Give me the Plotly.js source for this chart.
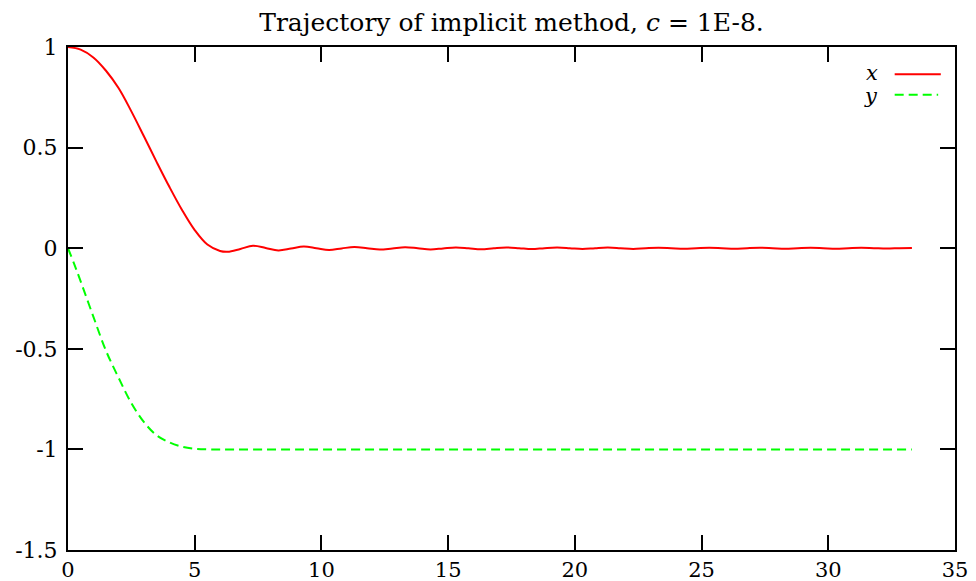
<!DOCTYPE html>
<html>
<head>
<meta charset="utf-8">
<script src="https://cdn.plot.ly/plotly-3.0.1.min.js"></script>
<style>html,body{margin:0;padding:0;background:#fff;}#chart{width:976px;height:581px;}</style>
</head>
<body>
<div id="chart"></div>
<script>
// Series x(t) (red, solid)
const tX = [0,0.5,1,1.5,2,2.5,3,3.5,4,4.5,5,5.5,6,6.3,6.8,7.3,7.8,8.3,8.8,9.3,9.8,10.3,10.8,11.3,11.8,12.3,12.8,13.3,13.8,14.3,14.8,15.3,15.8,16.3,16.8,17.3,17.8,18.3,18.8,19.3,19.8,20.3,20.8,21.3,21.8,22.3,22.8,23.3,23.8,24.3,24.8,25.3,25.8,26.3,26.8,27.3,27.8,28.3,28.8,29.3,29.8,30.3,30.8,31.3,31.8,32.3,32.8,33.3];
const xVals = [1.0,0.987,0.948,0.882,0.795,0.68,0.555,0.428,0.305,0.19,0.09,0.018,-0.014,-0.018,-0.004,0.012,0.001,-0.011,-0.002,0.008,0,-0.009,-0.001,0.006,0,-0.007,-0.001,0.005,0,-0.006,-0.001,0.004,0,-0.005,0,0.0035,0,-0.0045,0,0.003,0,-0.004,0,0.003,0,-0.0035,0,0.0025,0,-0.003,0,0.0025,0,-0.003,0,0.002,0,-0.0025,0,0.002,0,-0.0025,0,0.002,0,-0.002,0,0.0015];
// Series y(t) (green, dashed)
const tY = [0,0.25,0.5,1,1.5,2,2.5,3,3.5,4,4.5,5,5.5,6,33.3];
const yVals = [0,-0.08,-0.165,-0.34,-0.51,-0.645,-0.77,-0.865,-0.93,-0.965,-0.987,-0.997,-1,-1,-1];
// Ticks
const xTickVals = [0,5,10,15,20,25,30,35];
const xTickText = ["0","5","10","15","20","25","30","35"];
const yTickVals = [-1.5,-1,-0.5,0,0.5,1];
const yTickText = ["-1.5","-1","-0.5","0","0.5","1"];
const seriesNames = ["x","y"];

const FONT = "DejaVu Serif";
const traces = [
  {x: tX, y: xVals, type: 'scatter', mode: 'lines', name: seriesNames[0],
   line: {color: '#ff0000', width: 2, shape: 'spline', smoothing: 1}},
  {x: tY, y: yVals, type: 'scatter', mode: 'lines', name: seriesNames[1],
   line: {color: '#00ff00', width: 2, dash: '9px,5px', shape: 'spline', smoothing: 1}}
];
const axisCommon = {
  showgrid: false, zeroline: false, showline: true, linecolor: '#000', linewidth: 2,
  mirror: 'ticks', ticks: 'inside', ticklen: 15, tickwidth: 2, tickcolor: '#000',
  tickmode: 'array', tickfont: {family: FONT, size: 22, color: '#000'}
};
const layout = {
  width: 976, height: 581,
  margin: {l: 68, r: 21, t: 47, b: 31},
  paper_bgcolor: '#fff', plot_bgcolor: '#fff',
  showlegend: false,
  title: {text: 'Trajectory of implicit method, <i>c</i> = 1E-8.', font: {family: FONT, size: 25, color: '#000'},
          x: 0.5, xref: 'paper', y: 1 - 22/581, yref: 'container', yanchor: 'middle'},
  xaxis: Object.assign({}, axisCommon, {range: [0, 35], tickvals: xTickVals, ticktext: xTickText,
          tickfont: {family: FONT, size: 21, color: '#000'}}),
  yaxis: Object.assign({}, axisCommon, {range: [-1.5, 1], tickvals: yTickVals, ticktext: yTickText, ticklabelstandoff: 4}),
  annotations: [
    {xref: 'paper', yref: 'paper', x: 0.914, y: 0.948, xanchor: 'right', yanchor: 'middle', showarrow: false, borderpad: 0,
     text: '<i>' + seriesNames[0] + '</i>', font: {family: FONT, size: 21, color: '#000'}},
    {xref: 'paper', yref: 'paper', x: 0.914, y: 0.903, xanchor: 'right', yanchor: 'middle', showarrow: false, borderpad: 0,
     text: '<i>' + seriesNames[1] + '</i>', font: {family: FONT, size: 21, color: '#000'}}
  ],
  shapes: [
    {type: 'line', xref: 'paper', yref: 'paper', x0: 0.932, x1: 0.984, y0: 0.946, y1: 0.946, line: {color: '#ff0000', width: 2}},
    {type: 'line', xref: 'paper', yref: 'paper', x0: 0.932, x1: 0.981, y0: 0.905, y1: 0.905, line: {color: '#00ff00', width: 2, dash: '9px,5px'}}
  ]
};
Plotly.newPlot('chart', traces, layout, {displayModeBar: false, staticPlot: true});
</script>
</body>
</html>
